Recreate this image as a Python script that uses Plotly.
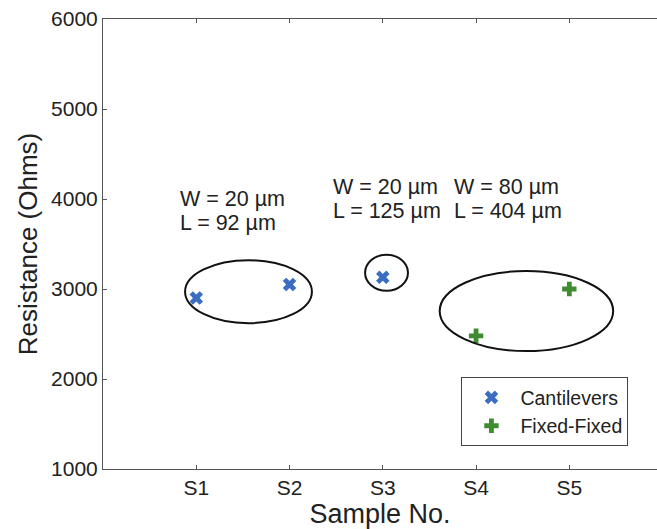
import plotly.graph_objects as go

samples = ["S1", "S2", "S3", "S4", "S5"]
sample_pos = [1, 2, 3, 4, 5]

cant_x = [1, 2, 3]
cant_y = [2900, 3050, 3130]

fixed_x = [4, 5]
fixed_y = [2480, 3000]

# ellipse groupings: (x0, x1, y0, y1) in data units
groups_x0 = [0.88, 2.81, 3.61]
groups_x1 = [2.24, 3.27, 5.47]
groups_y0 = [2620, 2980, 2310]
groups_y1 = [3320, 3380, 3200]

label_lines = [["W = 20 µm", "L = 92 µm"], ["W = 20 µm", "L = 125 µm"], ["W = 80 µm", "L = 404 µm"]]
label_x = [0.80, 2.44, 3.745]
label_y = [3995, 4130, 4130]

font_fam = "Liberation Sans, Arial, sans-serif"
txt = "#222222"

fig = go.Figure()
fig.add_trace(go.Scatter(x=cant_x, y=cant_y, mode="markers", name="Cantilevers",
                         marker=dict(symbol="x", size=12, color="#3b6ec2", line=dict(width=0))))
fig.add_trace(go.Scatter(x=fixed_x, y=fixed_y, mode="markers", name="Fixed-Fixed",
                         marker=dict(symbol="cross", size=12, color="#3f8c30", line=dict(width=0))))

for x0, x1, y0, y1 in zip(groups_x0, groups_x1, groups_y0, groups_y1):
    fig.add_shape(type="circle", xref="x", yref="y", x0=x0, x1=x1, y0=y0, y1=y1,
                  line=dict(color="#111111", width=2))

for lines, lx, ly in zip(label_lines, label_x, label_y):
    for i, t in enumerate(lines):
        fig.add_annotation(x=lx, y=ly - i * 265, xref="x", yref="y", text=t, showarrow=False,
                           xanchor="left", yanchor="middle",
                           font=dict(family=font_fam, size=21.5, color=txt))

fig.update_layout(
    width=657, height=529,
    margin=dict(l=103, r=0, t=19, b=60),
    paper_bgcolor="white", plot_bgcolor="white",
    font=dict(family=font_fam, color=txt),
    showlegend=True,
    legend=dict(x=0.647, y=0.204, xanchor="left", yanchor="top",
                bordercolor="#444444", borderwidth=1, bgcolor="white",
                font=dict(family=font_fam, size=19.5, color=txt),
                tracegroupgap=0, itemsizing="constant", itemwidth=48),
    xaxis=dict(range=[0, 5.94], tickmode="array", tickvals=sample_pos, ticktext=samples,
               showgrid=False, zeroline=False, showline=True, linecolor="#555555", linewidth=1,
               mirror="ticks", ticks="inside", ticklen=4, tickcolor="#555555",
               tickfont=dict(size=21, color=txt),
               title=dict(text="Sample No.", font=dict(size=27, color=txt), standoff=2)),
    yaxis=dict(range=[1000, 6000], tickvals=[1000, 2000, 3000, 4000, 5000, 6000],
               showgrid=False, zeroline=False, showline=True, linecolor="#555555", linewidth=1,
               mirror=False, ticks="inside", ticklen=4, tickcolor="#555555",
               tickfont=dict(size=21, color=txt),
               title=dict(text="Resistance (Ohms)", font=dict(size=26, color=txt), standoff=5)),
)

fig.write_html("out.html")
